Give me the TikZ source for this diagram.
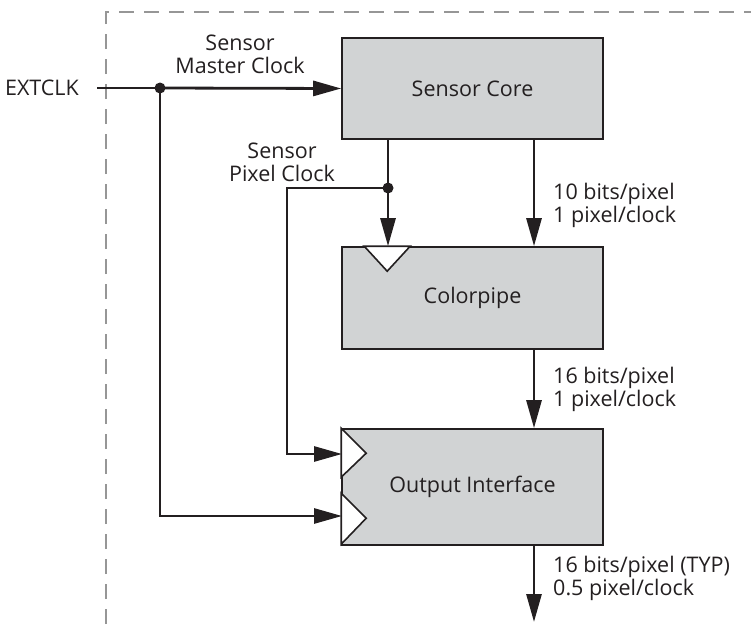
\documentclass[tikz,border=0pt]{standalone}
\usepackage{fontspec}
\setmainfont{Open Sans}
\usetikzlibrary{arrows.meta, positioning, calc}
\definecolor{boxgray}{RGB}{209,211,212}
\definecolor{ink}{RGB}{35,31,32}
\definecolor{framegray}{RGB}{150,150,150}

\begin{document}
\begin{tikzpicture}[
    x=1pt, y=-1pt,
    >={Triangle[length=28pt, width=15pt]},
    font=\fontsize{21.5}{23}\selectfont,
    block/.style={rectangle, draw=ink, line width=1.6pt, fill=boxgray, minimum width=261pt, text=ink, inner sep=0pt},
    wire/.style={draw=ink, line width=2.8pt},
    clk/.style={draw=ink, line width=1.6pt, fill=white, line join=miter},
    lbl/.style={align=left, text=ink, inner sep=0pt},
    frame/.style={draw=framegray, line width=2.2pt, dash pattern=on 15pt off 10pt},
]
\useasboundingbox (0,0) rectangle (751,624);

% Border of the chip
\draw[frame] (106,624) -- (106,12) -- (751,12);

% Blocks
\node (sensorcore) at (472.5,88.5) [block, minimum height=101pt] {Sensor Core};
\node (colorpipe) at (472.5,298) [block, minimum height=102pt] {Colorpipe};
\node (outif) at (472.5,487) [block, minimum height=116pt] {Output Interface};

% Clock inputs
\draw[clk] ($(colorpipe.north west)+(23,0)$) -- ++(23,25) -- ++(23,-25) -- cycle;
\draw[clk] (outif.north west) -- ++(25,25) -- ++(-25,24) -- cycle;
\draw[clk] ($(outif.north west)+(0,65)$) -- ++(25,25) -- ++(-25,26) -- cycle;

% External clock
\node (extclk) at (97,88) [anchor=east, inner xsep=18pt, inner ysep=0pt, text=ink] {EXTCLK};
\coordinate (mdot) at (160,88);
\coordinate (pdot) at (388,188);
\coordinate (clkA) at (342,454);
\coordinate (clkB) at (342,516);
\coordinate (out) at (534,622);

\draw[wire] (extclk.east) -- (mdot);
\draw[wire, ->] (mdot) -- (sensorcore.west);
\draw[wire, ->] (mdot) |- (clkB);
\fill[ink] (mdot) circle (5.5pt);

% Pixel clock
\draw[wire, ->] (sensorcore.south -| pdot) -- (colorpipe.north -| pdot);
\draw[wire, ->] (pdot) -- ++(-101,0) |- (clkA);
\fill[ink] (pdot) circle (5.5pt);

% Data path
\draw[wire, ->] (sensorcore.south -| out) -- (colorpipe.north -| out);
\draw[wire, ->] (colorpipe.south -| out) -- (outif.north -| out);
\draw[wire, ->] (outif.south -| out) -- (out);

% Labels
\node (mclk) at (240,54) [lbl, align=center] {Sensor\\Master Clock};
\node (pclk) at (282,162) [lbl, align=center] {Sensor\\Pixel Clock};
\node (bus1) at (553,205) [lbl, anchor=west] {10 bits/pixel\\1 pixel/clock};
\node (bus2) at (553,389) [lbl, anchor=west] {16 bits/pixel\\1 pixel/clock};
\node (bus3) at (553,578) [lbl, anchor=west] {16 bits/pixel (TYP)\\0.5 pixel/clock};

\end{tikzpicture}
\end{document}
